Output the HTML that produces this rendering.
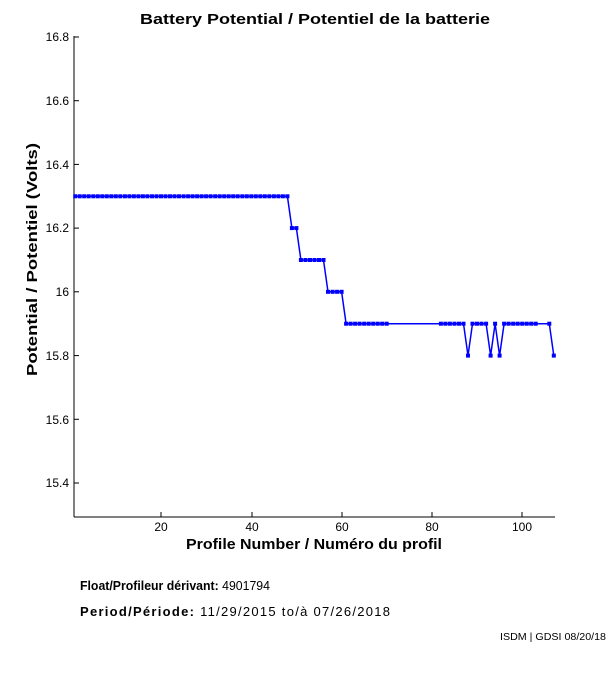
<!DOCTYPE html>
<html><head><meta charset="utf-8"><style>
body{margin:0;background:#fff;width:611px;height:675px;overflow:hidden}
svg text{font-family:"Liberation Sans",Arial,sans-serif}
</style></head><body>
<svg id="s" width="611" height="675" xmlns="http://www.w3.org/2000/svg">
<text x="140" y="24" font-size="15" font-weight="bold" textLength="350" lengthAdjust="spacingAndGlyphs">Battery Potential / Potentiel de la batterie</text>
<line x1="74" y1="36" x2="74" y2="517" stroke="#000"/>
<line x1="74" y1="517" x2="555" y2="517" stroke="#000"/>
<g font-size="12" text-anchor="end">
<text x="69" y="41">16.8</text><text x="69" y="105">16.6</text><text x="69" y="169">16.4</text>
<text x="69" y="232">16.2</text><text x="69" y="296">16</text><text x="69" y="360">15.8</text>
<text x="69" y="424">15.6</text><text x="69" y="487">15.4</text>
</g>
<g stroke="#000">
<line x1="74" y1="37" x2="79" y2="37"/><line x1="74" y1="100.7" x2="79" y2="100.7"/>
<line x1="74" y1="164.4" x2="79" y2="164.4"/><line x1="74" y1="228.1" x2="79" y2="228.1"/>
<line x1="74" y1="291.8" x2="79" y2="291.8"/><line x1="74" y1="355.6" x2="79" y2="355.6"/>
<line x1="74" y1="419.3" x2="79" y2="419.3"/><line x1="74" y1="483" x2="79" y2="483"/>
<line x1="161" y1="517" x2="161" y2="512"/><line x1="252" y1="517" x2="252" y2="512"/>
<line x1="342" y1="517" x2="342" y2="512"/><line x1="432" y1="517" x2="432" y2="512"/>
<line x1="522" y1="517" x2="522" y2="512"/>
</g>
<g font-size="12" text-anchor="middle">
<text x="161" y="531">20</text><text x="252" y="531">40</text><text x="342" y="531">60</text>
<text x="432" y="531">80</text><text x="522" y="531">100</text>
</g>
<text x="186" y="549" font-size="15" font-weight="bold" textLength="256" lengthAdjust="spacingAndGlyphs">Profile Number / Numéro du profil</text>
<text transform="translate(37,376) rotate(-90)" font-size="15" font-weight="bold" textLength="233" lengthAdjust="spacingAndGlyphs">Potential / Potentiel (Volts)</text>
<text x="80" y="590" font-size="13" textLength="190" lengthAdjust="spacingAndGlyphs"><tspan font-weight="bold">Float/Profileur dérivant: </tspan>4901794</text>
<text x="80" y="616" font-size="13" textLength="310" lengthAdjust="spacing"><tspan font-weight="bold">Period/Période: </tspan>11/29/2015  to/à  07/26/2018</text>
<text x="500" y="640" font-size="10" textLength="106" lengthAdjust="spacingAndGlyphs">ISDM | GDSI 08/20/18</text>
<polyline id="pl" fill="none" stroke="#0000ff" stroke-width="1.5"/>
<g id="mk" fill="#0000ff"></g>
</svg>
<script>
var d=[];
function add(a,b,v){for(var n=a;n<=b;n++)d.push([n,v]);}
add(1,48,16.3);add(49,50,16.2);add(51,56,16.1);add(57,60,16.0);add(61,70,15.9);
add(82,87,15.9);add(88,88,15.8);add(89,92,15.9);add(93,93,15.8);add(94,94,15.9);add(95,95,15.8);
add(96,103,15.9);add(106,106,15.9);add(107,107,15.8);
var pts=[],mk=document.getElementById('mk'),h='';
d.forEach(function(p){var x=75.2+(p[0]-1)*4.515,y=37+(16.8-p[1])/0.2*63.71;
pts.push(x.toFixed(1)+','+y.toFixed(1));
h+='<rect x="'+(x-2).toFixed(1)+'" y="'+(y-2).toFixed(1)+'" width="4" height="4"/>';});
document.getElementById('pl').setAttribute('points',pts.join(' '));
mk.innerHTML=h;
</script>
</body></html>
